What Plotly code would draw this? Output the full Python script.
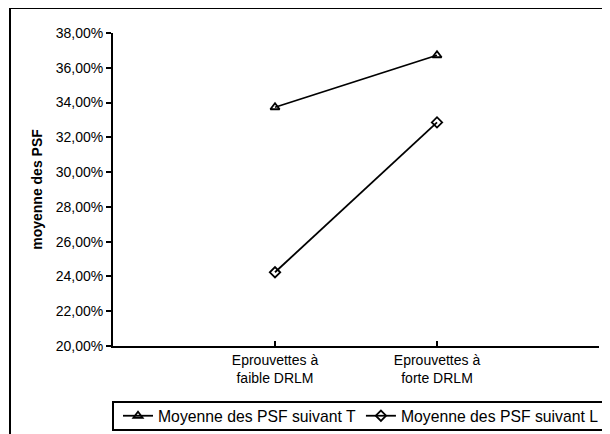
import plotly.graph_objects as go

categories = ["Eprouvettes à<br>faible DRLM", "Eprouvettes à<br>forte DRLM"]
series_T_name = "Moyenne des PSF suivant T"
series_L_name = "Moyenne des PSF suivant L"
series_T = [0.3373, 0.3672]
series_L = [0.2424, 0.3286]
y_ticks = [0.20, 0.22, 0.24, 0.26, 0.28, 0.30, 0.32, 0.34, 0.36, 0.38]

# categories sit at positions 1..n on an axis spanning 0..n+1
x_pos = [i + 1 for i in range(len(categories))]
tick_pos = list(range(len(categories) + 2))
tick_txt = [""] + categories + [""]

FONT = "Arial, Liberation Sans, sans-serif"
OFF = 8  # page body margin
W, H = 610 - OFF, 434 - OFF
ML, MR, MT, MB = 113 - OFF, 610 - 599, 33 - OFF, 434 - 346
PW, PH = W - ML - MR, H - MT - MB

fig = go.Figure()
fig.add_trace(go.Scatter(
    x=x_pos, y=series_T, name=series_T_name, mode="lines+markers",
    line=dict(color="black", width=1.8),
    marker=dict(symbol="triangle-up-open", size=8, color="black", line=dict(width=1.8)),
))
fig.add_trace(go.Scatter(
    x=x_pos, y=series_L, name=series_L_name, mode="lines+markers",
    line=dict(color="black", width=1.8),
    marker=dict(symbol="diamond-open", size=8, color="black", line=dict(width=1.8)),
))


def px_x(p):
    return (p - OFF - ML) / PW


def px_y(p):
    return 1 - (p - OFF - MT) / PH


# outer chart frame
fig.add_shape(type="rect", xref="paper", yref="paper",
              x0=px_x(10), x1=px_x(625), y0=px_y(8), y1=px_y(450),
              line=dict(color="black", width=2), fillcolor="rgba(0,0,0,0)", layer="below")
# legend frame
fig.add_shape(type="rect", xref="paper", yref="paper",
              x0=px_x(113), x1=px_x(608), y0=px_y(402), y1=px_y(430),
              line=dict(color="black", width=2), fillcolor="rgba(0,0,0,0)", layer="above")

fig.update_layout(
    width=W, height=H,
    margin=dict(l=ML, r=MR, t=MT, b=MB, autoexpand=False),
    paper_bgcolor="white", plot_bgcolor="white",
    font=dict(family=FONT, size=14, color="black"),
    separators=", ",
    showlegend=True,
    legend=dict(
        orientation="h", x=px_x(118), xanchor="left", y=px_y(399), yanchor="top",
        borderwidth=0, bgcolor="rgba(0,0,0,0)",
        font=dict(family=FONT, size=15.75, color="black"),
        itemclick=False, itemdoubleclick=False,
    ),
    xaxis=dict(
        range=[0, len(categories) + 1], tickmode="array",
        tickvals=tick_pos, ticktext=tick_txt,
        ticks="inside", ticklen=5, tickwidth=1.5, tickcolor="black",
        showline=True, linecolor="black", linewidth=2,
        showgrid=False, zeroline=False,
        tickfont=dict(size=14),
    ),
    yaxis=dict(
        range=[0.20, 0.38], tickmode="array", tickvals=y_ticks,
        tickformat=".2%",
        ticks="outside", ticklen=5, tickwidth=1.5, tickcolor="black",
        showline=True, linecolor="black", linewidth=2,
        showgrid=False, zeroline=False,
        tickfont=dict(size=14),
        title=dict(text="<b>moyenne des PSF</b>", font=dict(size=14), standoff=10),
    ),
)

fig.write_html("out.html")
